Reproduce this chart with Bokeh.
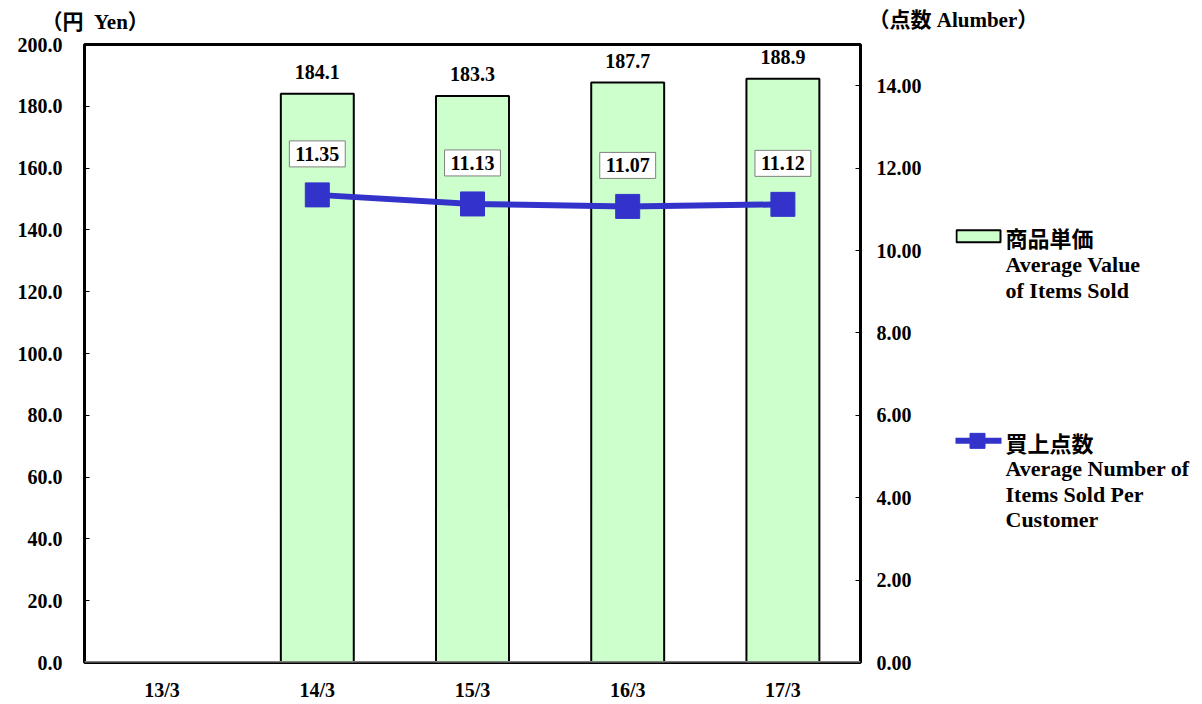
from bokeh.plotting import figure
from bokeh.layouts import column, row
from bokeh.models import (ColumnDataSource, Range1d, LinearAxis, FixedTicker, NumeralTickFormatter,
                          LabelSet, Label, Span)
from bokeh.core.properties import value
from bokeh.embed import file_html
from bokeh.resources import INLINE

categories = ["13/3", "14/3", "15/3", "16/3", "17/3"]
avg_value = [None, 184.1, 183.3, 187.7, 188.9]
items_per_customer = [None, 11.35, 11.13, 11.07, 11.12]
left_ticks = [0, 20, 40, 60, 80, 100, 120, 140, 160, 180, 200]
right_ticks = [0, 2, 4, 6, 8, 10, 12, 14]
left_unit = "（円\u2002Yen）"
right_unit = "（点数 Alumber）"
legend_bar_jp = "商品単価"
legend_bar_en = ["Average Value", "of Items Sold"]
legend_line_jp = "買上点数"
legend_line_en = ["Average Number of", "Items Sold Per", "Customer"]

SERIF = "Liberation Serif"
MIXED = "'Liberation Serif', 'Noto Sans CJK JP'"
CJK = "Noto Sans CJK JP"
BAR_FILL = "#CCFFCC"
LINE_COL = "#3333CC"
FS = "20px"

TOP_H = 32
MAIN_W, MAIN_H = 955, 671
BORDER_TOP, BORDER_BOTTOM = 12, 40
LEG_W = 245
FRAME_TOP = TOP_H + BORDER_TOP
FRAME_BOT = TOP_H + MAIN_H - BORDER_BOTTOM


def blank(w, h, x0, x1, y_top, y_bot):
    f = figure(width=w, height=h, x_range=Range1d(x0, x1), y_range=Range1d(y_bot, y_top),
               x_axis_type=None, y_axis_type=None, output_backend="svg", toolbar_location=None,
               min_border=0, min_border_left=0, min_border_right=0, min_border_top=0,
               min_border_bottom=0)
    f.outline_line_color = None
    f.xgrid.visible = False
    f.ygrid.visible = False
    return f


# ---------------- top strip with unit labels ----------------
top = blank(MAIN_W + LEG_W, TOP_H, 0, MAIN_W + LEG_W, 0, TOP_H)
top.text(x=[41], y=[21], text=[left_unit], text_font=value(MIXED), text_font_style="bold",
         text_font_size="21px", text_baseline="middle", text_align="left", text_color="black")
top.text(x=[868], y=[19], text=[right_unit], text_font=value(MIXED), text_font_style="bold",
         text_font_size="21px", text_baseline="middle", text_align="left", text_color="black")

# ---------------- main chart ----------------
bar_cats = [c for c, v in zip(categories, avg_value) if v is not None]
bar_vals = [v for v in avg_value if v is not None]
bar_src = ColumnDataSource(dict(x=bar_cats, top=bar_vals, lab=[f"{v:.1f}" for v in bar_vals]))
line_cats = [c for c, v in zip(categories, items_per_customer) if v is not None]
line_vals = [v for v in items_per_customer if v is not None]
line_src = ColumnDataSource(dict(x=line_cats, y=line_vals))

p = figure(x_range=categories, y_range=Range1d(0, 200), width=MAIN_W, height=MAIN_H,
           output_backend="svg", toolbar_location=None,
           min_border_left=84, min_border_top=BORDER_TOP, min_border_right=95,
           min_border_bottom=BORDER_BOTTOM)
p.extra_y_ranges = {"items": Range1d(0, 15)}
p.outline_line_color = "black"
p.outline_line_width = 3
p.xgrid.visible = False
p.ygrid.visible = False


def style_axis(ax, standoff):
    ax.axis_line_color = None
    ax.major_tick_in = 5
    ax.major_tick_out = 0
    ax.minor_tick_line_color = None
    ax.major_label_standoff = standoff
    ax.major_label_text_font = SERIF
    ax.major_label_text_font_style = "bold"
    ax.major_label_text_font_size = FS
    ax.major_label_text_color = "black"


ya = p.yaxis[0]
ya.ticker = FixedTicker(ticks=left_ticks)
ya.formatter = NumeralTickFormatter(format="0.0")
style_axis(ya, 22)

ra = LinearAxis(y_range_name="items", ticker=FixedTicker(ticks=right_ticks),
                formatter=NumeralTickFormatter(format="0.00"))
style_axis(ra, 16)
p.add_layout(ra, "right")

xa = p.xaxis[0]
style_axis(xa, 16)
xa.major_tick_in = 0
xa.major_tick_line_color = None

p.vbar(x="x", top="top", width=0.47, bottom=0, source=bar_src,
       fill_color=BAR_FILL, line_color="black", line_width=2)
p.add_layout(Span(location=0, dimension="width", line_color="#808080", line_width=3))

p.line(x="x", y="y", source=line_src, y_range_name="items", line_color=LINE_COL, line_width=6)
p.scatter(x="x", y="y", source=line_src, y_range_name="items", marker="square", size=24,
          fill_color=LINE_COL, line_color=LINE_COL)

p.add_layout(LabelSet(x="x", y="top", text="lab", source=bar_src, y_offset=22,
                      text_align="center", text_baseline="middle",
                      text_font=SERIF, text_font_style="bold", text_font_size=FS,
                      text_color="black"))
for i, v in enumerate(items_per_customer):
    if v is None:
        continue
    p.add_layout(Label(x=i + 0.5, y=v, y_range_name="items", y_offset=41,
                       text=f"{v:.2f}", text_align="center", text_baseline="middle",
                       text_font=SERIF, text_font_style="bold", text_font_size=FS,
                       text_color="black", background_fill_color="white",
                       border_line_color="#808080", border_line_width=1, padding=6))

# ---------------- legend panel (frame aligned with the main chart's frame) ----------------
lg = blank(LEG_W, MAIN_H, MAIN_W, MAIN_W + LEG_W, FRAME_TOP, FRAME_BOT)
lg.quad(left=[MAIN_W + 1], right=[MAIN_W + 45], top=[230], bottom=[242],
        fill_color=BAR_FILL, line_color="black", line_width=2)
lg.line(x=[MAIN_W - 1, MAIN_W + 46], y=[441, 441], line_color=LINE_COL, line_width=6)
lg.scatter(x=[MAIN_W + 22], y=[441], marker="square", size=15, fill_color=LINE_COL,
           line_color=LINE_COL)
tx = MAIN_W + 50
lg.text(x=[tx, tx], y=[237, 442], text=[legend_bar_jp, legend_line_jp], text_font=value(CJK),
        text_font_style="bold", text_font_size="22px", text_baseline="middle",
        text_align="left", text_color="black")
lg.text(x=[tx] * len(legend_bar_en), y=[264 + 26 * i for i in range(len(legend_bar_en))],
        text=legend_bar_en, text_font=value(SERIF), text_font_style="bold",
        text_font_size="22px", text_baseline="middle", text_align="left", text_color="black")
lg.text(x=[tx] * len(legend_line_en), y=[469 + 25.5 * i for i in range(len(legend_line_en))],
        text=legend_line_en, text_font=value(SERIF), text_font_style="bold",
        text_font_size="22px", text_baseline="middle", text_align="left", text_color="black")

layout = column(top, row(p, lg, spacing=0), spacing=0)
open("out.html", "w").write(file_html(layout, INLINE))
